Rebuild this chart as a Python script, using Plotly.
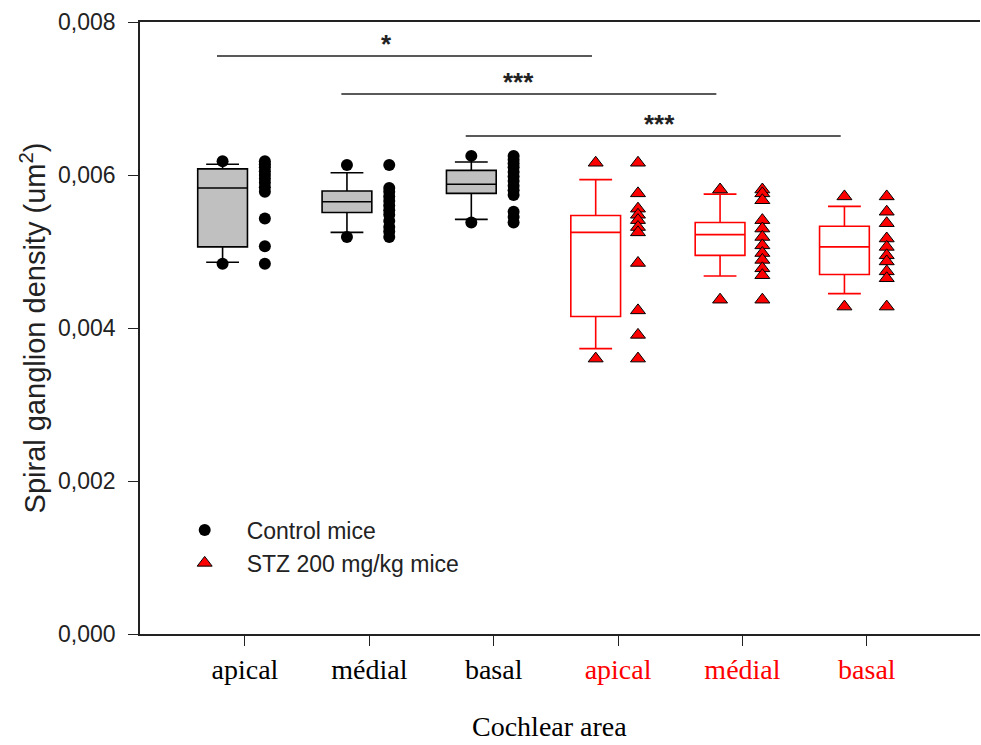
import plotly.graph_objects as go

# category labels along the x axis
areas = ["apical", "médial", "basal", "apical", "médial", "basal"]
area_colors = ["black", "black", "black", "red", "red", "red"]

# box statistics (control: areas 1-3, STZ: areas 4-6)
q1 = [0.00506, 0.00551, 0.00576, 0.00415, 0.00495, 0.00470]
median = [0.00583, 0.00565, 0.00588, 0.00525, 0.00522, 0.00506]
q3 = [0.00608, 0.00579, 0.00606, 0.00547, 0.00538, 0.00533]
lower_whisker = [0.00486, 0.00525, 0.00542, 0.00373, 0.00468, 0.00445]
upper_whisker = [0.00614, 0.00603, 0.00617, 0.00594, 0.00575, 0.00559]
# points beyond the whiskers
low_out = [0.00484, 0.00519, 0.00538, 0.00360, 0.00437, 0.00428]
high_out = [0.00618, 0.00613, 0.00625, 0.00616, 0.00581, 0.00572]

# individual values
ctrl_apical = [0.00618, 0.00614, 0.00610, 0.00605, 0.00600, 0.00595, 0.00590,
               0.00584, 0.00578, 0.00543, 0.00507, 0.00484]
ctrl_medial = [0.00613, 0.00583, 0.00578, 0.00572, 0.00566, 0.00560, 0.00554,
               0.00548, 0.00540, 0.00532, 0.00526, 0.00519]
ctrl_basal = [0.00625, 0.00620, 0.00615, 0.00610, 0.00604, 0.00598, 0.00592,
              0.00586, 0.00580, 0.00574, 0.00552, 0.00545, 0.00538]
stz_apical = [0.00616, 0.00576, 0.00556, 0.00548, 0.00541, 0.00532, 0.00525,
              0.00485, 0.00423, 0.00391, 0.00360]
stz_medial = [0.00581, 0.00576, 0.00567, 0.00541, 0.00530, 0.00519, 0.00508,
              0.00498, 0.00489, 0.00478, 0.00469, 0.00437]
stz_basal = [0.00572, 0.00552, 0.00537, 0.00517, 0.00506, 0.00495, 0.00487,
             0.00474, 0.00465, 0.00428]

# significance brackets: (from area, to area, y, label, label x)
sig_bars = [(1, 4, 0.007555, "*", 2.14),
            (2, 5, 0.00706, "***", 3.2),
            (3, 6, 0.00651, "***", 4.33)]

pos = [1, 2, 3, 4, 5, 6]
box_x = [p - 0.18 for p in pos]
pts_x = [p + 0.16 for p in pos]

fig = go.Figure()

for i in range(6):
    ctrl = i < 3
    fig.add_trace(go.Box(
        x=[box_x[i]], q1=[q1[i]], median=[median[i]], q3=[q3[i]],
        lowerfence=[lower_whisker[i]], upperfence=[upper_whisker[i]],
        width=0.4, whiskerwidth=0.66, boxpoints=False,
        fillcolor="#c0c0c0" if ctrl else "white",
        line=dict(color="black" if ctrl else "red", width=1.6),
        showlegend=False, hoverinfo="skip"
    ))

# outlier markers at the whisker ends
fig.add_trace(go.Scatter(
    x=box_x[:3] * 2, y=low_out[:3] + high_out[:3], mode="markers",
    marker=dict(symbol="circle", size=12, color="black"),
    showlegend=False
))
fig.add_trace(go.Scatter(
    x=box_x[3:] * 2, y=low_out[3:] + high_out[3:], mode="markers",
    marker=dict(symbol="triangle-up", size=13, color="red",
                line=dict(color="black", width=1)),
    showlegend=False
))

ctrl_groups = [ctrl_apical, ctrl_medial, ctrl_basal]
stz_groups = [stz_apical, stz_medial, stz_basal]

cx, cy = [], []
for k, g in enumerate(ctrl_groups):
    cx += [pts_x[k]] * len(g)
    cy += g
sx, sy = [], []
for k, g in enumerate(stz_groups):
    sx += [pts_x[k + 3]] * len(g)
    sy += g

fig.add_trace(go.Scatter(
    x=cx, y=cy, mode="markers", name="Control mice",
    marker=dict(symbol="circle", size=12, color="black")
))
fig.add_trace(go.Scatter(
    x=sx, y=sy, mode="markers", name="STZ 200 mg/kg mice",
    marker=dict(symbol="triangle-up", size=13, color="red",
                line=dict(color="black", width=1))
))

for a, b, yv, label, lx in sig_bars:
    fig.add_shape(type="line", x0=a - 0.225, x1=b - 0.21, y0=yv, y1=yv,
                  xref="x", yref="y", line=dict(color="#222", width=1.5))
    fig.add_annotation(x=lx, y=yv, text="<b>" + label + "</b>",
                       showarrow=False, yanchor="middle", yshift=12,
                       font=dict(family="Liberation Sans", size=26, color="#222"))

# x axis title placed as in the source (slightly left of centre, near bottom)
fig.add_annotation(x=0.487, y=-0.179, xref="paper", yref="paper",
                   text="Cochlear area", showarrow=False,
                   xanchor="center", yanchor="bottom",
                   font=dict(family="Liberation Serif", size=28, color="black"))

ticktext = ['<span style="color:%s">%s</span>' % (c, t)
            for t, c in zip(areas, area_colors)]

fig.update_layout(
    width=981, height=745,
    margin=dict(l=140, r=1, t=22, b=111),
    plot_bgcolor="white", paper_bgcolor="white",
    showlegend=True,
    legend=dict(x=0.027, y=0.205, xanchor="left", yanchor="top",
                bgcolor="rgba(0,0,0,0)", itemwidth=74,
                font=dict(family="Liberation Sans", size=23, color="#222")),
    xaxis=dict(
        range=[0.156, 6.91], tickvals=pos, ticktext=ticktext,
        ticks="outside", ticklen=10, tickwidth=1.3, tickcolor="#222",
        showline=True, linecolor="#222", linewidth=1.5, mirror=True,
        showgrid=False, zeroline=False,
        tickfont=dict(family="Liberation Serif", size=28, color="black")
    ),
    yaxis=dict(
        range=[0, 0.008],
        tickvals=[0, 0.002, 0.004, 0.006, 0.008],
        ticktext=["0,000", "0,002", "0,004", "0,006", "0,008"],
        ticks="outside", ticklen=10, tickwidth=1.3, tickcolor="#222",
        ticklabelstandoff=8,
        showline=True, linecolor="#222", linewidth=1.5,
        showgrid=False, zeroline=False,
        tickfont=dict(family="Liberation Sans", size=23, color="#222"),
        title=dict(text="Spiral ganglion density (um<sup>2</sup>)", standoff=4,
                   font=dict(family="Liberation Sans", size=29, color="#222"))
    )
)

fig.write_html("out.html", config={"displayModeBar": False},
               post_script="document.body.style.margin='0';")
